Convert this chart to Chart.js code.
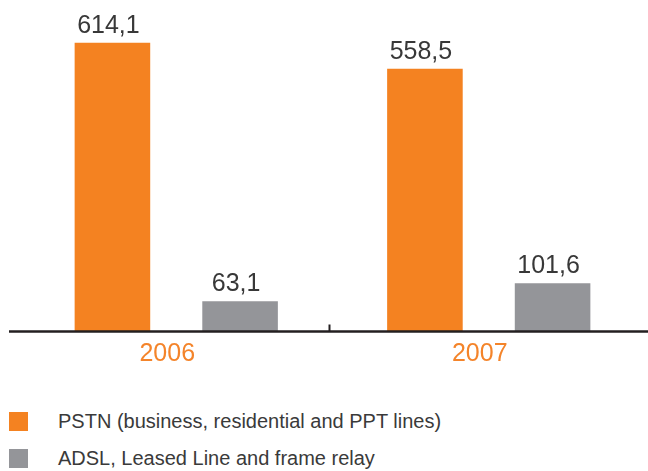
<!DOCTYPE html>
<html>
<head>
<meta charset="utf-8">
<script src="https://cdn.jsdelivr.net/npm/chart.js@4"></script>
<style>
    body { margin: 0; background: #fff; font-family: "Liberation Sans", Arial, sans-serif; }
    #wrap { position: absolute; left: 0; top: 0; width: 648px; height: 390px; }
    #legend { position: absolute; left: 9px; top: 403px; }
    .item { display: flex; align-items: center; height: 37px; font-size: 20px; color: #3a3a3a; }
    .box { width: 19px; height: 19px; margin-right: 30px; }
</style>
</head>
<body>
<div id="wrap"><canvas id="main-graph"></canvas></div>
<div id="legend"></div>
<script>
const years = ['2006', '2007'];
const pstnValues = [614.1, 558.5];
const adslValues = [63.1, 101.6];
const seriesNames = [
    'PSTN (business, residential and PPT lines)',
    'ADSL, Leased Line and frame relay',
];
const seriesColors = ['#f48221', '#949599'];

const fontFamily = '"Liberation Sans", Arial, sans-serif';

// Value labels above each bar, comma as decimal mark
const valueLabels = {
    id: 'valueLabels',
    afterDatasetsDraw(chart) {
        const ctx = chart.ctx;
        ctx.save();
        ctx.font = '25px ' + fontFamily;
        ctx.fillStyle = '#383838';
        ctx.textAlign = 'center';
        ctx.textBaseline = 'alphabetic';
        chart.data.datasets.forEach((ds, i) => {
            chart.getDatasetMeta(i).data.forEach((bar, j) => {
                const text = ds.data[j].toFixed(1).replace('.', ',');
                ctx.fillText(text, bar.x - 4, bar.y - 10);
            });
        });
        ctx.restore();
    },
};

// Base line running across the whole width, with a small tick between years
const baseLine = {
    id: 'baseLine',
    afterDatasetsDraw(chart) {
        const ctx = chart.ctx;
        const y = chart.chartArea.bottom + 0.5;
        const xs = chart.scales.x;
        const mid = (xs.getPixelForValue(0) + xs.getPixelForValue(1)) / 2 - 3;
        ctx.save();
        ctx.strokeStyle = '#231f20';
        ctx.lineWidth = 2.5;
        ctx.beginPath();
        ctx.moveTo(9, y);
        ctx.lineTo(chart.width, y);
        ctx.stroke();
        ctx.lineWidth = 2;
        ctx.beginPath();
        ctx.moveTo(mid, y);
        ctx.lineTo(mid, y - 7);
        ctx.stroke();
        ctx.restore();
    },
};

const data = {
    labels: years,
    datasets: [
        {
            label: seriesNames[0],
            data: pstnValues,
            backgroundColor: seriesColors[0],
            categoryPercentage: 0.817,
            barPercentage: 0.592,
        },
        {
            label: seriesNames[1],
            data: adslValues,
            backgroundColor: seriesColors[1],
            categoryPercentage: 0.817,
            barPercentage: 0.592,
        },
    ],
};

const config = {
    type: 'bar',
    data: data,
    plugins: [valueLabels, baseLine],
    options: {
        responsive: true,
        maintainAspectRatio: false,
        animation: false,
        layout: { padding: { left: 20, right: 3, top: 0, bottom: 21 } },
        plugins: {
            legend: { display: false },
            tooltip: { enabled: false },
        },
        scales: {
            x: {
                grid: { display: false },
                border: { display: false },
                ticks: {
                    color: '#f4842a',
                    font: { size: 25, family: fontFamily },
                    padding: 0,
                    labelOffset: -9,
                },
            },
            y: {
                display: false,
                min: 0,
                max: 705,
            },
        },
    },
};

const mainGraph = new Chart(document.getElementById('main-graph'), config);

// Legend in HTML, one entry per row
const legend = document.getElementById('legend');
mainGraph.data.datasets.forEach((ds) => {
    const item = document.createElement('div');
    item.className = 'item';
    const box = document.createElement('span');
    box.className = 'box';
    box.style.background = ds.backgroundColor;
    const text = document.createElement('span');
    text.textContent = ds.label;
    item.appendChild(box);
    item.appendChild(text);
    legend.appendChild(item);
});
</script>
</body>
</html>
